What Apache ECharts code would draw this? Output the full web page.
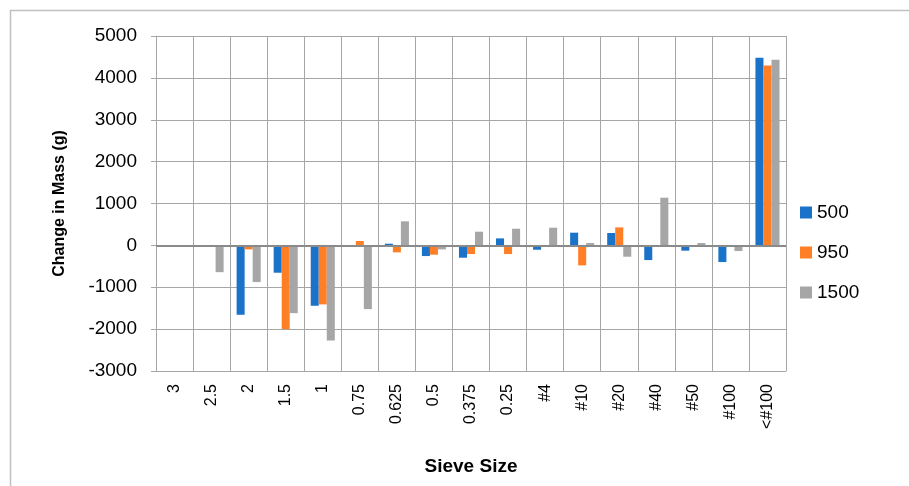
<!DOCTYPE html>
<html>
<head>
<meta charset="utf-8">
<script src="https://cdn.jsdelivr.net/npm/echarts@6/dist/echarts.min.js"></script>
<style>html,body{margin:0;padding:0;background:#fff}#c{width:909px;height:486px}</style>
</head>
<body>
<div id="c"></div>
<script>
const categories = ['3','2.5','2','1.5','1','0.75','0.625','0.5','0.375','0.25','#4','#10','#20','#40','#50','#100','<#100'];
const seriesNames = ['500','950','1500'];
const s500  = [0, 0, -1657, -653, -1442, 0, 40, -255, -295, 167, -104, 303, 295, -351, -127, -398, 4478];
const s950  = [0, 0, -96, -2000, -1410, 104, -167, -223, -207, -207, 0, -478, 430, 0, 0, 0, 4295];
const s1500 = [0, -640, -876, -1618, -2271, -1522, 574, -96, 327, 398, 422, 56, -271, 1139, 56, -135, 4430];
const yTicks = {min: -3000, max: 5000, interval: 1000};

const colors = ['#1a73c8', '#ff7f27', '#a6a6a6'];
const font = 'Liberation Sans';
const chart = echarts.init(document.getElementById('c'));
const data = [s500, s950, s1500];
chart.setOption({
  animation: false,
  color: colors,
  textStyle: {fontFamily: font},
  grid: {left: 156, right: 123, top: 36, bottom: 115},
  graphic: [{
    type: 'polyline', silent: true,
    shape: {points: [[10.5, 486], [10.5, 10.5], [909, 10.5]]},
    style: {stroke: '#c0c0c0', lineWidth: 1.5, fill: null}
  }],
  legend: {
    orient: 'vertical', left: 795, top: 198,
    itemWidth: 12, itemHeight: 12, itemGap: 21,
    icon: 'rect',
    textStyle: {fontSize: 19, color: '#000', fontFamily: font},
    data: seriesNames
  },
  xAxis: {
    type: 'category', data: categories,
    name: 'Sieve Size', nameLocation: 'middle', nameGap: 86,
    nameTextStyle: {fontSize: 19, fontWeight: 'bold', color: '#000', fontFamily: font},
    axisLine: {show: true, onZero: false, lineStyle: {color: '#a6a6a6', width: 1}},
    axisTick: {show: false},
    axisLabel: {rotate: 90, fontSize: 16, color: '#000', margin: 13, interval: 0, fontFamily: font},
    splitLine: {show: true, interval: 0, lineStyle: {color: '#a6a6a6', width: 1}}
  },
  yAxis: {
    type: 'value', min: yTicks.min, max: yTicks.max, interval: yTicks.interval,
    name: 'Change in Mass (g)', nameLocation: 'middle', nameGap: 88,
    nameTextStyle: {fontSize: 16, fontWeight: 'bold', color: '#000', fontFamily: font},
    axisLine: {show: true, lineStyle: {color: '#a6a6a6', width: 1}},
    axisTick: {show: true, length: 5, lineStyle: {color: '#a6a6a6'}},
    axisLabel: {fontSize: 19, color: '#000', margin: 19, fontFamily: font, formatter: v => String(v)},
    splitLine: {show: true, lineStyle: {color: '#a6a6a6', width: 1}}
  },
  series: seriesNames.map((n, i) => {
    const s = {
      name: n, type: 'bar', data: data[i],
      barGap: '0%', barCategoryGap: '35%',
      itemStyle: {color: colors[i]}
    };
    if (i === 0) {
      s.markLine = {
        silent: true, symbol: 'none', label: {show: false},
        lineStyle: {color: '#8a8a8a', width: 2, type: 'solid'},
        data: [{yAxis: 0}]
      };
    }
    return s;
  })
});
</script>
</body>
</html>
